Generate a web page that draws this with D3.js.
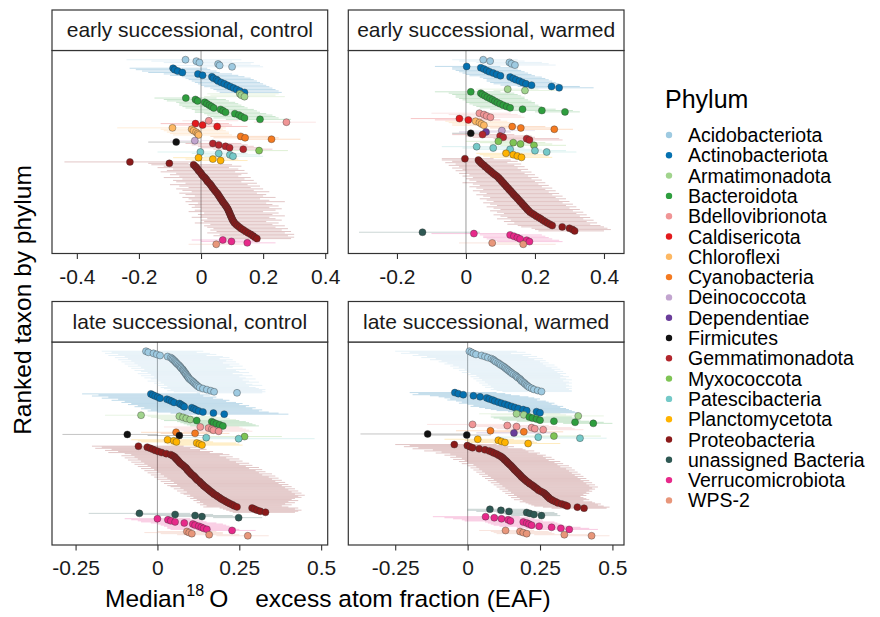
<!DOCTYPE html>
<head>
<meta charset="utf-8">
<title>Median 18O EAF by phylum</title>
<script src="https://d3js.org/d3.v7.min.js"></script>
<style>
  body { margin: 0; background: #fff; }
  svg { font-family: "Liberation Sans", Arial, Helvetica, sans-serif; }
  .frame { fill: none; stroke: #333; stroke-width: 1.2px; }
  .strip { fill: #fff; stroke: #333; stroke-width: 1.2px; }
  .strip-label { font-size: 21px; fill: #1a1a1a; }
  .zero-line { stroke: #a3a3a3; stroke-width: 1.1px; }
  .ci { stroke-width: 0.9px; stroke-opacity: 0.28; }
  .taxon { stroke: #333; stroke-width: 0.5px; stroke-opacity: 0.75; }
  .tick line { stroke: #333; stroke-width: 1.1px; }
  .tick text { font-size: 21px; fill: #1a1a1a; }
  .axis-title { font-size: 24.5px; fill: #000; }
  .legend-title { font-size: 25px; fill: #000; }
  .legend-label { font-size: 19.5px; fill: #000; }
</style>
</head>
<body>
<script>
// phyla in legend order, and their colours
var phyla = ["Acidobacteriota","Actinobacteriota","Armatimonadota","Bacteroidota","Bdellovibrionota",
  "Caldisericota","Chloroflexi","Cyanobacteria","Deinococcota","Dependentiae","Firmicutes",
  "Gemmatimonadota","Myxococcota","Patescibacteria","Planctomycetota","Proteobacteria",
  "unassigned Bacteria","Verrucomicrobiota","WPS-2"];
var phylumColours = ["#9ecae1","#0571b0","#a1d48d","#2e9e3e","#f09596",
  "#e31a1c","#fdb863","#f47a20","#c2a5cf","#6a3d9a","#111111",
  "#b2262d","#7fc455","#74c9c8","#ffb300","#8b1a1a",
  "#2e5853","#e7298a","#e8967a"];

var panelTitles = ["early successional, control","early successional, warmed",
  "late successional, control","late successional, warmed"];
var xTicks = [[-0.4,-0.2,0,0.2,0.4],[-0.2,0,0.2,0.4],[-0.25,0,0.25,0.5],[-0.25,0,0.25,0.5]];
var xDomains = [[-0.48,0.408],[-0.341,0.458],[-0.322,0.52],[-0.412,0.54]];

// [phylum, medians, lower CI, upper CI], taxa ranked top to bottom
var earlyControl = [
  ["Acidobacteriota",[-0.05,-0.015,-0.005,0.055,0.06,0.1],[-0.24,-0.16,-0.12,-0.02,-0.1,0.0],[0.13,0.1,0.17,0.16,0.19,0.2]],
  ["Actinobacteriota",[-0.09,-0.085,-0.075,-0.06,-0.01,0.005,0.035,0.04,0.05,0.055,0.065,0.075,0.085,0.095,0.105,0.115,0.125,0.14],
    [-0.23,-0.21,-0.19,-0.17,-0.12,-0.1,-0.06,-0.05,-0.04,-0.03,-0.02,-0.01,0.0,0.01,0.03,0.04,0.05,0.06],
    [0.02,0.03,0.05,0.06,0.1,0.12,0.14,0.16,0.17,0.18,0.19,0.2,0.21,0.22,0.23,0.24,0.25,0.26]],
  ["Armatimonadota",[0.125,0.13,0.14],[0.02,0.03,0.01],[0.25,0.24,0.27]],
  ["Bacteroidota",[-0.049,-0.018,-0.011,0.012,0.019,0.027,0.034,0.041,0.063,0.071,0.079,0.109,0.122,0.13,0.14,0.19],
    [-0.15,-0.12,-0.11,-0.08,-0.07,-0.07,-0.06,-0.05,-0.03,-0.02,-0.02,0.01,0.02,0.03,0.04,0.08],
    [0.05,0.08,0.09,0.11,0.12,0.13,0.14,0.15,0.17,0.18,0.19,0.21,0.23,0.24,0.25,0.29]],
  ["Bdellovibrionota",[0.025,0.275],[-0.06,0.17],[0.12,0.37]],
  ["Caldisericota",[-0.018,0.005,0.052],[-0.13,-0.09,-0.04],[0.09,0.1,0.15]],
  ["Chloroflexi",[-0.092,-0.03,-0.024,-0.016,-0.011,-0.008],[-0.27,-0.13,-0.12,-0.11,-0.1,-0.09],[0.08,0.07,0.08,0.09,0.09,0.1]],
  ["Cyanobacteria",[0.128,0.142,0.227],[0.03,0.04,0.12],[0.23,0.25,0.32]],
  ["Deinococcota",[-0.02],[-0.1],[0.06]],
  ["Firmicutes",[-0.08],[-0.17],[0.0]],
  ["Gemmatimonadota",[0.038,0.057,0.079,0.092,0.136],[-0.05,-0.03,-0.01,0.0,0.04],[0.13,0.15,0.17,0.19,0.23]],
  ["Myxococcota",[0.187],[0.09],[0.28]],
  ["Patescibacteria",[-0.002,0.057,0.093,0.103],[-0.14,-0.03,0.0,0.01],[0.1,0.15,0.19,0.2]],
  ["Planctomycetota",[-0.008,0.038,0.063],[-0.09,-0.05,-0.03],[0.08,0.12,0.15]],
  ["Proteobacteria",
    [-0.229,-0.102,-0.024,-0.019,-0.015,-0.011,-0.008,-0.004,0.0,0.003,0.007,0.012,0.016,0.019,0.022,0.027,0.031,0.034,
     0.037,0.041,0.044,0.048,0.052,0.055,0.058,0.061,0.064,0.067,0.07,0.073,0.077,0.08,0.083,0.086,0.088,0.09,0.092,0.094,
     0.096,0.098,0.1,0.102,0.105,0.108,0.113,0.118,0.124,0.13,0.137,0.144,0.152,0.16,0.167,0.173,0.18],
    [-0.44,-0.17,-0.16,-0.12,-0.14,-0.09,-0.11,-0.13,-0.08,-0.1,-0.07,-0.12,-0.06,-0.09,-0.08,-0.05,-0.1,-0.07,-0.04,-0.08,
     -0.06,-0.03,-0.07,-0.05,-0.02,-0.06,-0.04,-0.03,-0.05,-0.01,-0.04,-0.02,-0.03,0.0,-0.02,-0.04,0.01,-0.01,0.0,-0.03,
     0.02,0.0,0.01,-0.02,0.03,0.01,0.02,0.04,0.03,0.05,0.02,0.06,0.04,0.07,0.08],
    [-0.03,-0.04,0.1,0.13,0.09,0.12,0.14,0.11,0.15,0.13,0.12,0.16,0.14,0.17,0.13,0.18,0.15,0.19,0.16,0.2,0.17,0.22,
     0.18,0.21,0.2,0.24,0.19,0.22,0.27,0.21,0.23,0.25,0.22,0.26,0.24,0.2,0.25,0.23,0.27,0.22,0.24,0.26,
     0.21,0.25,0.23,0.27,0.24,0.28,0.26,0.29,0.27,0.3,0.28,0.3,0.29]],
  ["Verrucomicrobiota",[0.07,0.098,0.149],[-0.03,0.0,0.05],[0.17,0.19,0.24]],
  ["WPS-2",[0.049],[-0.04],[0.15]]
];

var earlyWarmed = [
  ["Acidobacteriota",[0.05,0.07,0.126,0.132,0.142],[-0.04,-0.02,0.03,0.05,0.05],[0.15,0.17,0.22,0.24,0.26]],
  ["Actinobacteriota",[0.002,0.043,0.052,0.06,0.068,0.079,0.089,0.1,0.128,0.137,0.145,0.155,0.164,0.174,0.19,0.248,0.27],
    [-0.09,-0.04,-0.04,-0.03,-0.02,-0.01,0.0,0.01,0.04,0.05,0.06,0.06,0.07,0.08,0.1,0.15,0.17],
    [0.1,0.14,0.15,0.16,0.17,0.18,0.19,0.2,0.22,0.23,0.24,0.25,0.26,0.27,0.28,0.33,0.37]],
  ["Armatimonadota",[0.121,0.171],[0.03,0.08],[0.21,0.26]],
  ["Bacteroidota",[0.014,0.043,0.048,0.055,0.062,0.07,0.077,0.084,0.091,0.099,0.108,0.118,0.128,0.164,0.22,0.287],
    [-0.09,-0.05,-0.04,-0.03,-0.03,-0.02,-0.01,0.0,0.0,0.01,0.02,0.03,0.04,0.07,0.13,0.2],
    [0.1,0.14,0.15,0.16,0.17,0.17,0.18,0.19,0.2,0.2,0.21,0.22,0.23,0.26,0.31,0.33]],
  ["Bdellovibrionota",[0.039,0.052,0.06,0.071],[-0.1,-0.05,-0.03,-0.02],[0.13,0.15,0.16,0.17]],
  ["Caldisericota",[-0.019,0.007],[-0.16,-0.09],[0.07,0.1]],
  ["Chloroflexi",[0.028,0.039,0.045,0.052],[-0.06,-0.05,-0.04,-0.04],[0.12,0.13,0.14,0.15]],
  ["Cyanobacteria",[0.134,0.159,0.256],[0.04,0.07,0.17],[0.23,0.25,0.31]],
  ["Deinococcota",[0.104],[0.01],[0.2]],
  ["Dependentiae",[0.058],[-0.02],[0.13]],
  ["Firmicutes",[0.014],[-0.04],[0.07]],
  ["Gemmatimonadota",[0.048,0.099,0.108,0.176,0.184],[-0.04,0.0,0.02,0.08,0.09],[0.14,0.19,0.2,0.27,0.28]],
  ["Myxococcota",[0.094,0.137,0.158,0.197],[0.0,0.04,0.07,0.1],[0.19,0.23,0.25,0.29]],
  ["Patescibacteria",[0.031,0.079,0.128,0.2,0.234],[-0.07,-0.01,0.03,0.11,0.14],[0.13,0.17,0.22,0.29,0.32]],
  ["Planctomycetota",[0.116,0.137,0.149,0.161],[0.03,0.04,0.05,0.07],[0.2,0.23,0.24,0.25]],
  ["Proteobacteria",
    [-0.003,0.036,0.039,0.043,0.047,0.052,0.056,0.061,0.065,0.07,0.074,0.079,0.084,0.089,
     0.094,0.097,0.101,0.104,0.108,0.111,0.115,0.118,0.122,0.125,0.129,0.132,0.136,0.139,0.143,0.147,
     0.15,0.154,0.157,0.161,0.164,0.168,0.171,0.175,0.178,0.182,0.186,
     0.192,0.198,0.204,0.211,0.217,0.223,0.229,0.236,0.243,0.25,0.279,0.3,0.309,0.315],
    [-0.07,-0.07,-0.04,-0.06,-0.03,-0.05,-0.02,-0.04,-0.01,-0.03,0.0,-0.02,0.01,-0.01,
     0.02,0.0,0.01,0.03,-0.01,0.02,0.04,0.01,0.03,0.05,0.02,0.04,0.06,0.03,0.05,0.07,
     0.04,0.06,0.08,0.05,0.07,0.09,0.06,0.08,0.1,0.07,0.09,
     0.11,0.08,0.1,0.12,0.09,0.13,0.11,0.14,0.12,0.15,0.16,0.19,0.2,0.21],
    [0.08,0.13,0.15,0.12,0.16,0.14,0.17,0.15,0.18,0.16,0.19,0.17,0.2,0.18,
     0.21,0.19,0.22,0.2,0.23,0.21,0.24,0.22,0.25,0.23,0.26,0.24,0.27,0.25,0.28,0.26,
     0.29,0.27,0.3,0.28,0.31,0.29,0.32,0.3,0.33,0.31,0.34,
     0.32,0.35,0.33,0.36,0.34,0.37,0.35,0.38,0.36,0.39,0.4,0.41,0.42,0.4]],
  ["unassigned Bacteria",[-0.126],[-0.31],[0.04]],
  ["Verrucomicrobiota",[0.023,0.128,0.139,0.149,0.157,0.176,0.184],[-0.1,0.04,0.05,0.05,0.06,0.08,0.09],[0.12,0.22,0.23,0.24,0.25,0.27,0.28]],
  ["WPS-2",[0.076,0.166],[-0.02,0.07],[0.17,0.26]]
];

var lateControl = [
  ["Acidobacteriota",
    [-0.035,-0.028,-0.012,-0.002,0.008,0.031,0.041,0.045,0.048,0.052,0.055,0.058,0.061,0.065,0.068,0.071,0.073,0.077,0.079,0.081,
     0.084,0.086,0.088,0.091,0.093,0.095,0.098,0.102,0.106,0.11,0.113,0.117,0.12,0.124,0.129,0.139,0.151,0.163,0.173,0.243],
    [-0.17,-0.14,-0.16,-0.12,-0.15,-0.1,-0.13,-0.09,-0.12,-0.08,-0.11,-0.07,-0.1,-0.06,-0.09,-0.05,-0.08,-0.04,-0.07,-0.05,
     -0.03,-0.06,-0.02,-0.05,-0.01,-0.04,-0.02,0.0,-0.03,0.01,-0.01,0.02,0.0,0.03,0.01,0.02,0.04,0.03,0.05,0.12],
    [0.14,0.12,0.16,0.18,0.15,0.2,0.22,0.19,0.23,0.21,0.24,0.2,0.25,0.22,0.26,0.23,0.21,0.27,0.24,0.25,
     0.28,0.23,0.26,0.29,0.25,0.27,0.3,0.26,0.28,0.31,0.27,0.29,0.32,0.28,0.3,0.31,0.33,0.32,0.33,0.32]],
  ["Actinobacteriota",[-0.02,-0.014,-0.007,0.001,0.008,0.029,0.037,0.044,0.051,0.067,0.072,0.078,0.082,0.105,0.112,0.118,0.126,0.139,0.171,0.204],
    [-0.23,-0.18,-0.2,-0.15,-0.17,-0.12,-0.14,-0.1,-0.11,-0.08,-0.09,-0.06,-0.07,-0.04,-0.05,-0.02,-0.03,0.0,0.04,0.08],
    [0.13,0.16,0.14,0.18,0.17,0.2,0.22,0.21,0.24,0.26,0.25,0.28,0.27,0.3,0.29,0.32,0.31,0.34,0.37,0.4]],
  ["Armatimonadota",[-0.05,0.067,0.078,0.088,0.1],[-0.16,-0.03,-0.02,0.0,0.01],[0.08,0.18,0.2,0.22,0.24]],
  ["Bacteroidota",[0.12,0.166,0.172,0.18,0.19,0.2],[0.02,0.06,0.07,0.08,0.09,0.1],[0.25,0.27,0.28,0.29,0.3,0.31]],
  ["Bdellovibrionota",[0.131,0.156,0.166,0.171,0.187],[0.02,0.05,0.06,0.07,0.08],[0.25,0.26,0.27,0.28,0.29]],
  ["Cyanobacteria",[0.057,0.115],[-0.05,0.01],[0.17,0.22]],
  ["Firmicutes",[-0.092,0.067],[-0.29,-0.03],[0.0,0.16]],
  ["Myxococcota",[0.266],[0.16],[0.38]],
  ["Patescibacteria",[0.149,0.248],[0.03,0.14],[0.27,0.48]],
  ["Planctomycetota",[0.031,0.05,0.058,0.12,0.128,0.136],[-0.08,-0.06,-0.05,0.02,0.03,0.04],[0.14,0.16,0.17,0.24,0.25,0.26]],
  ["Proteobacteria",
    [-0.058,-0.031,-0.022,-0.014,-0.006,0.003,0.013,0.027,0.041,0.047,0.052,0.055,0.058,0.061,0.064,0.067,0.07,0.074,0.078,0.082,
     0.086,0.089,0.091,0.094,0.097,0.1,0.103,0.107,0.111,0.114,0.117,0.12,0.123,0.128,0.131,0.134,0.138,0.141,0.145,0.149,
     0.153,0.157,0.161,0.165,0.169,0.173,0.179,0.183,0.188,0.193,0.198,0.204,0.21,0.216,0.222,0.229,0.235,0.243,0.289,0.296,
     0.304,0.314,0.33],
    [-0.2,-0.17,-0.19,-0.14,-0.16,-0.12,-0.15,-0.1,-0.08,-0.11,-0.07,-0.1,-0.06,-0.09,-0.05,-0.08,-0.04,-0.07,-0.03,-0.06,
     -0.02,-0.05,-0.01,-0.04,0.0,-0.03,0.01,-0.02,0.02,-0.01,0.03,0.0,0.04,0.01,0.05,0.02,0.06,0.03,0.04,0.07,
     0.05,0.08,0.06,0.09,0.07,0.08,0.1,0.09,0.11,0.1,0.12,0.11,0.13,0.12,0.14,0.13,0.15,0.14,0.19,0.2,
     0.21,0.22,0.23],
    [0.08,0.12,0.1,0.15,0.13,0.17,0.16,0.2,0.22,0.19,0.23,0.21,0.25,0.22,0.26,0.24,0.28,0.25,0.29,0.27,
     0.31,0.28,0.32,0.3,0.33,0.31,0.35,0.32,0.36,0.34,0.37,0.35,0.38,0.36,0.39,0.37,0.4,0.38,0.41,0.39,
     0.42,0.4,0.43,0.41,0.44,0.42,0.45,0.43,0.44,0.42,0.41,0.43,0.4,0.42,0.39,0.41,0.38,0.4,0.43,0.42,
     0.44,0.43,0.42]],
  ["unassigned Bacteria",[-0.055,0.054,0.115,0.136,0.248],[-0.21,-0.07,0.0,0.03,0.17],[0.1,0.17,0.23,0.25,0.32]],
  ["Verrucomicrobiota",[0.0,0.032,0.041,0.054,0.082,0.108,0.115,0.126,0.134,0.141,0.151,0.228],
    [-0.1,-0.08,-0.06,-0.05,-0.02,0.0,0.01,0.02,0.03,0.03,0.04,0.12],
    [0.1,0.13,0.14,0.15,0.18,0.2,0.21,0.22,0.23,0.24,0.25,0.3]],
  ["WPS-2",[0.09,0.097,0.105,0.158,0.276],[0.0,-0.04,0.01,0.06,0.18],[0.18,0.2,0.2,0.25,0.34]]
];

var lateWarmed = [
  ["Acidobacteriota",
    [0.006,0.013,0.02,0.029,0.048,0.06,0.07,0.082,0.089,0.093,0.098,0.105,0.11,0.115,0.121,0.127,0.131,0.136,0.14,0.145,
     0.15,0.154,0.16,0.166,0.17,0.174,0.18,0.183,0.186,0.191,0.196,0.199,0.204,0.208,0.213,0.221,0.229,0.242,0.255],
    [-0.25,-0.2,-0.23,-0.17,-0.19,-0.14,-0.16,-0.11,-0.13,-0.09,-0.1,-0.07,-0.08,-0.05,-0.06,-0.03,-0.05,-0.01,-0.03,0.0,
     -0.02,0.01,0.0,0.03,0.01,0.04,0.02,0.05,0.03,0.06,0.04,0.07,0.05,0.08,0.06,0.09,0.08,0.1,0.12],
    [0.17,0.2,0.15,0.22,0.19,0.24,0.21,0.26,0.23,0.27,0.25,0.28,0.26,0.3,0.27,0.31,0.29,0.32,0.3,0.33,
     0.31,0.34,0.32,0.33,0.35,0.32,0.34,0.36,0.33,0.35,0.36,0.34,0.35,0.36,0.34,0.36,0.35,0.36,0.36]],
  ["Actinobacteriota",[-0.044,-0.032,-0.015,0.02,0.043,0.066,0.075,0.086,0.094,0.106,0.117,0.129,0.14,0.152,0.163,0.175,0.192,0.204,0.238,0.25],
    [-0.2,-0.17,-0.19,-0.13,-0.1,-0.08,-0.06,-0.07,-0.04,-0.02,-0.03,0.0,0.02,0.01,0.04,0.06,0.08,0.1,0.14,0.16],
    [0.1,0.13,0.15,0.18,0.21,0.23,0.25,0.24,0.27,0.28,0.3,0.29,0.31,0.33,0.32,0.34,0.35,0.36,0.37,0.38]],
  ["Armatimonadota",[0.169,0.194,0.382],[0.04,0.08,0.27],[0.32,0.34,0.47]],
  ["Bacteroidota",[0.213,0.224,0.238,0.25,0.298,0.371,0.434],[0.08,0.09,0.11,0.12,0.17,0.26,0.33],[0.36,0.37,0.38,0.39,0.42,0.47,0.5]],
  ["Bdellovibrionota",[0.017,0.137,0.169,0.221,0.232,0.261],[-0.14,0.0,0.03,0.09,0.1,0.13],[0.17,0.28,0.31,0.36,0.37,0.4]],
  ["Cyanobacteria",[0.079,0.194],[-0.04,0.07],[0.21,0.33]],
  ["Dependentiae",[0.16],[0.03],[0.29]],
  ["Firmicutes",[-0.138,-0.003],[-0.37,-0.14],[0.01,0.08]],
  ["Myxococcota",[0.298],[0.15],[0.46]],
  ["Patescibacteria",[0.244,0.388],[0.1,0.26],[0.4,0.48]],
  ["Planctomycetota",[0.035,0.106,0.117,0.129,0.209],[-0.08,-0.01,0.0,0.01,0.09],[0.16,0.22,0.23,0.24,0.32]],
  ["Proteobacteria",
    [-0.046,-0.001,0.008,0.017,0.04,0.06,0.075,0.084,0.091,0.1,0.107,0.114,0.119,0.123,0.127,0.131,0.135,0.138,0.142,0.146,
     0.15,0.153,0.157,0.16,0.163,0.167,0.171,0.175,0.178,0.182,0.185,0.189,0.193,0.197,0.201,0.206,0.211,0.215,0.221,0.227,
     0.231,0.236,0.241,0.245,0.252,0.259,0.265,0.269,0.273,0.276,0.28,0.284,0.29,0.296,0.304,0.312,0.325,0.336,0.344,0.379,
     0.402],
    [-0.25,-0.2,-0.22,-0.17,-0.19,-0.12,-0.15,-0.09,-0.11,-0.06,-0.08,-0.04,-0.06,-0.02,-0.05,-0.01,-0.03,0.0,-0.02,0.02,
     0.0,0.03,0.01,0.04,0.02,0.05,0.03,0.06,0.04,0.07,0.05,0.08,0.06,0.09,0.07,0.1,0.08,0.11,0.09,0.12,
     0.1,0.13,0.11,0.14,0.12,0.15,0.13,0.16,0.14,0.17,0.15,0.18,0.16,0.19,0.18,0.2,0.21,0.22,0.23,0.26,
     0.29],
    [0.1,0.12,0.16,0.14,0.19,0.2,0.23,0.21,0.25,0.24,0.27,0.26,0.29,0.27,0.3,0.28,0.32,0.3,0.33,0.31,
     0.35,0.32,0.36,0.34,0.37,0.35,0.38,0.36,0.39,0.37,0.4,0.38,0.41,0.39,0.42,0.4,0.43,0.41,0.44,0.42,
     0.45,0.43,0.44,0.42,0.43,0.41,0.42,0.4,0.41,0.39,0.4,0.41,0.42,0.4,0.43,0.44,0.46,0.45,0.47,0.49,
     0.48]],
  ["unassigned Bacteria",[0.077,0.115,0.143,0.204,0.215,0.229,0.255],[0.0,0.0,0.03,0.1,0.12,0.13,0.15],[0.2,0.22,0.25,0.3,0.31,0.31,0.32]],
  ["Verrucomicrobiota",[0.062,0.092,0.117,0.14,0.148,0.192,0.204,0.212,0.221,0.247,0.29,0.322,0.351],
    [-0.12,-0.08,-0.05,-0.02,-0.01,0.06,0.07,0.08,0.09,0.11,0.17,0.2,0.24],
    [0.18,0.21,0.23,0.25,0.26,0.3,0.31,0.32,0.33,0.35,0.39,0.42,0.45]],
  ["WPS-2",[0.131,0.181,0.192,0.204,0.334,0.428],[0.04,0.08,0.09,0.1,0.23,0.33],[0.23,0.28,0.29,0.3,0.43,0.49]]
];

var panels = [earlyControl, earlyWarmed, lateControl, lateWarmed];

var width = 880, height = 617;
var colLeft = [52, 348.3], rowTop = [10, 301.5];
var panelW = 275.7, stripH = 40.5, panelH = 203;

var svg = d3.select("body").append("svg")
    .attr("width", width)
    .attr("height", height);

var colour = d3.scaleOrdinal().domain(phyla).range(phylumColours);

panels.forEach(function(rows, i) {
  var left = colLeft[i % 2],
      top = rowTop[Math.floor(i / 2)],
      plotTop = top + stripH,
      plotBottom = plotTop + panelH;

  // flatten the groups into ranked taxa
  var taxa = [];
  rows.forEach(function(r) {
    r[1].forEach(function(m, j) {
      taxa.push({phylum: r[0], median: m, lo: r[2][j], hi: r[3][j]});
    });
  });
  taxa.forEach(function(d, k) { d.rank = k + 1; });
  var n = taxa.length;

  var x = d3.scaleLinear().domain(xDomains[i]).range([left, left + panelW]);
  var y = d3.scaleLinear()
      .domain([1 - 0.05 * (n - 1), n + 0.05 * (n - 1)])
      .range([plotTop, plotBottom]);

  var g = svg.append("g");

  g.append("clipPath").attr("id", "clip" + i)
    .append("rect")
      .attr("x", left).attr("y", plotTop)
      .attr("width", panelW).attr("height", panelH);

  var plot = g.append("g").attr("clip-path", "url(#clip" + i + ")");

  plot.append("line")
      .attr("class", "zero-line")
      .attr("x1", x(0)).attr("x2", x(0))
      .attr("y1", plotTop).attr("y2", plotBottom);

  plot.selectAll(".ci")
    .data(taxa)
    .enter().append("line")
      .attr("class", "ci")
      .attr("x1", function(d) { return x(d.lo); })
      .attr("x2", function(d) { return x(d.hi); })
      .attr("y1", function(d) { return y(d.rank); })
      .attr("y2", function(d) { return y(d.rank); })
      .attr("stroke", function(d) { return colour(d.phylum); });

  plot.selectAll(".taxon")
    .data(taxa)
    .enter().append("circle")
      .attr("class", "taxon")
      .attr("cx", function(d) { return x(d.median); })
      .attr("cy", function(d) { return y(d.rank); })
      .attr("r", 3.5)
      .attr("fill", function(d) { return colour(d.phylum); });

  g.append("rect")
      .attr("class", "frame")
      .attr("x", left).attr("y", plotTop)
      .attr("width", panelW).attr("height", panelH);

  g.append("rect")
      .attr("class", "strip")
      .attr("x", left).attr("y", top)
      .attr("width", panelW).attr("height", stripH);

  g.append("text")
      .attr("class", "strip-label")
      .attr("x", left + panelW / 2)
      .attr("y", top + stripH / 2 + 7)
      .attr("text-anchor", "middle")
      .text(panelTitles[i]);

  var axis = g.append("g")
      .attr("transform", "translate(0," + plotBottom + ")")
      .call(d3.axisBottom(x)
        .tickValues(xTicks[i])
        .tickSize(5.5)
        .tickFormat(function(d) { return String(d); }));
  axis.select(".domain").remove();
  axis.selectAll("text")
      .attr("y", 30)
      .attr("dy", null)
      .attr("fill", null);
  axis.selectAll("line").attr("stroke", null);
  axis.attr("font-family", null).attr("font-size", null);
});

// axis titles
var xTitle = svg.append("text")
    .attr("class", "axis-title")
    .attr("x", 105)
    .attr("y", 607);
xTitle.append("tspan").text("Median");
xTitle.append("tspan").attr("dx", 1).attr("dy", -11).style("font-size", "16px").text("18");
xTitle.append("tspan").attr("dx", 5).attr("dy", 11).text("O");
xTitle.append("tspan").attr("dx", 27).text("excess atom fraction (EAF)");

svg.append("text")
    .attr("class", "axis-title")
    .attr("transform", "translate(31,300) rotate(-90)")
    .attr("text-anchor", "middle")
    .text("Ranked taxon by phylum");

// legend
var legend = svg.append("g");
legend.append("text")
    .attr("class", "legend-title")
    .attr("x", 665)
    .attr("y", 108)
    .text("Phylum");

var item = legend.selectAll(".item")
    .data(phyla)
  .enter().append("g")
    .attr("class", "item")
    .attr("transform", function(d, i) { return "translate(0," + (135 + i * 20.3) + ")"; });

item.append("circle")
    .attr("cx", 669)
    .attr("r", 3.2)
    .attr("fill", function(d) { return colour(d); });

item.append("text")
    .attr("class", "legend-label")
    .attr("x", 688)
    .attr("y", 7)
    .text(function(d) { return d; });
</script>
</body>
